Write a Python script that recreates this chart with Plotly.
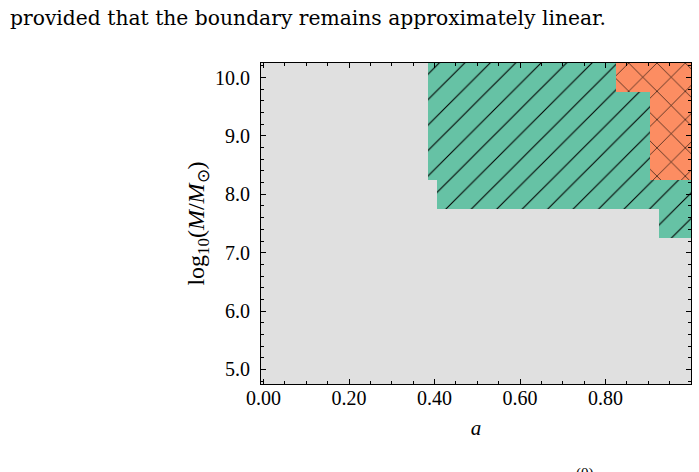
import plotly.graph_objects as go

# Region data: a-segments (cell edges) and logM cell-center extents per region
a_lo = [0.385, 0.405, 0.825, 0.905, 0.925]
a_hi = [0.405, 0.825, 0.905, 0.925, 1.0]
green_lo = [8.5, 8.0, 8.0, 8.0, 7.5]
green_hi = [10.0, 10.0, 9.5, 8.0, 8.0]
orange_lo = [None, None, 10.0, 8.5, 8.5]
orange_hi = [None, None, 10.0, 10.0, 10.0]
dlogM = 0.5

x_ticks = [0.0, 0.2, 0.4, 0.6, 0.8]
y_ticks = [5.0, 6.0, 7.0, 8.0, 9.0, 10.0]

GRAY = "#e0e0e0"
GREEN = "#66c2a5"
ORANGE = "#fc8d62"
FONT = "Liberation Serif"


def bars(lo, hi, ylo, yhi):
    xs, ws, bs, hs = [], [], [], []
    for l, h, y0, y1 in zip(lo, hi, ylo, yhi):
        if y0 is None:
            continue
        xs.append((l + h) / 2)
        ws.append(h - l)
        bs.append(y0 - dlogM / 2)
        hs.append(y1 - y0 + dlogM)
    return xs, ws, bs, hs


fig = go.Figure()
gx, gw, gb, gh = bars(a_lo, a_hi, green_lo, green_hi)
fig.add_trace(go.Bar(
    x=gx, y=gh, base=gb, width=gw,
    marker=dict(color=GREEN, line=dict(width=0),
                pattern=dict(shape="/", fgcolor="black", fgopacity=1, size=18,
                             solidity=0.06, fillmode="overlay")),
    showlegend=False, hoverinfo="skip",
))
ox, ow, ob, oh = bars(a_lo, a_hi, orange_lo, orange_hi)
fig.add_trace(go.Bar(
    x=ox, y=oh, base=ob, width=ow,
    marker=dict(color=ORANGE, line=dict(width=0),
                pattern=dict(shape="x", fgcolor="black", fgopacity=1, size=20,
                             solidity=0.06, fillmode="overlay")),
    showlegend=False, hoverinfo="skip",
))

axis_common = dict(
    showline=True, linecolor="black", linewidth=1, mirror="ticks",
    ticks="inside", ticklen=5, tickwidth=1, tickcolor="black",
    showgrid=False, zeroline=False,
    tickfont=dict(family=FONT, size=20, color="black"),
)

fig.update_xaxes(
    range=[-0.006, 1.0], tickvals=x_ticks, tickformat=".2f",
    minor=dict(dtick=0.05, tick0=0, ticks="inside", ticklen=3, tickcolor="black", showgrid=False),
    title=dict(text="<i>a</i>", font=dict(family=FONT, size=21, color="black"), standoff=12),
    ticklabelstandoff=-4,
    **axis_common,
)
fig.update_yaxes(
    range=[4.75, 10.25], tickvals=y_ticks, tickformat=".1f",
    minor=dict(dtick=0.2, tick0=0, ticks="inside", ticklen=3, tickcolor="black", showgrid=False),
    title=dict(text="log<sub>10</sub>(<i>M</i>/<i>M</i><sub>⊙</sub>)",
               font=dict(family=FONT, size=24, color="black"), standoff=3),
    ticklabelstandoff=6,
    **axis_common,
)

fig.add_annotation(
    text="provided that the boundary remains approximately linear.",
    xref="paper", yref="paper", x=(7 - 261) / 431, y=(384 - 18) / 321.3,
    xanchor="left", yanchor="middle", showarrow=False,
    font=dict(family="DejaVu Serif", size=20.3, color="black"),
)
fig.add_annotation(
    text="(0)", xref="paper", yref="paper", x=(586 - 261) / 431, y=(384 - 474) / 321.3,
    xanchor="center", yanchor="middle", showarrow=False,
    font=dict(family=FONT, size=15, color="black"),
)

fig.update_layout(
    width=699, height=472,
    margin=dict(l=261, r=8, t=63, b=88),
    plot_bgcolor=GRAY, paper_bgcolor="white",
    barmode="overlay", bargap=0,
)

fig.write_html("out.html")
